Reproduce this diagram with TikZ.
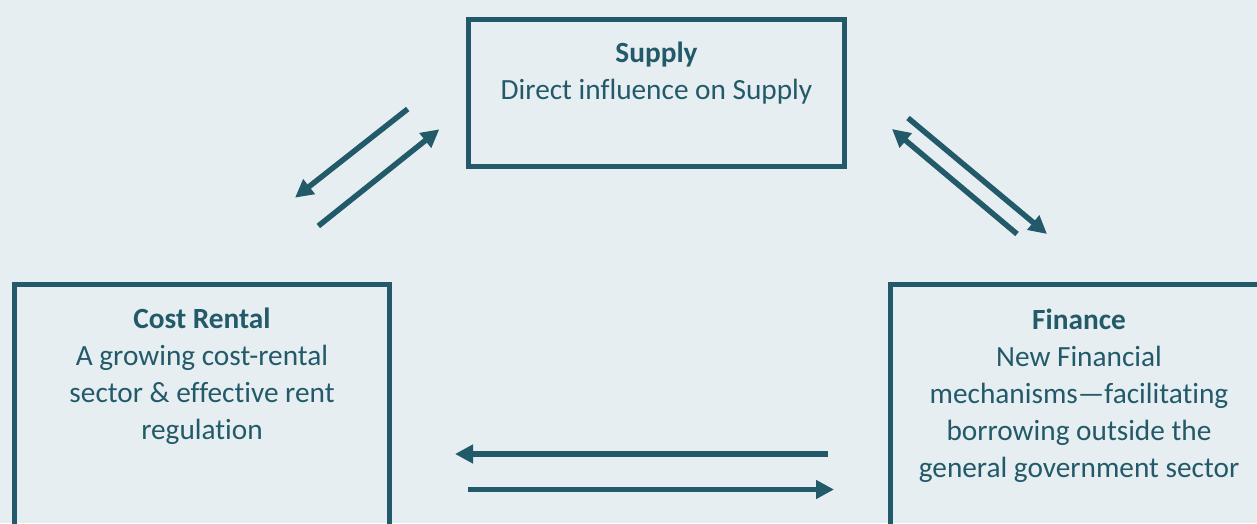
\documentclass[tikz,border=0pt]{standalone}
\usepackage{fontspec}
\setmainfont{Carlito}[Ligatures=NoCommon]
\usetikzlibrary{arrows.meta}
\definecolor{bgcol}{RGB}{230,238,242}
\definecolor{teal}{RGB}{35,90,105}
\tikzset{
  box/.style={draw=teal, line width=5pt, rectangle, inner sep=0pt},
  boxtext/.style={anchor=base, text=teal, inner sep=0pt, font=\fontsize{29.3}{37}\selectfont},
  arr/.style={draw=teal, line width=5.5pt, -{Triangle[length=18pt,width=18pt]}}
}
\newcommand{\bxlines}[1]{\renewcommand\arraystretch{1}\begin{tabular}[t]{@{}c@{}}#1\end{tabular}}
\begin{document}
\begin{tikzpicture}[x=1pt,y=1pt]
\useasboundingbox (0,0) rectangle (1257,523);
\fill[bgcol] (0,0) rectangle (1257,523);
\begin{scope}
\clip (0,0) rectangle (1257,523);
% boxes
\node[box, minimum width=376pt, minimum height=147pt] (supply) at (656.5,430) {};
\node[box, minimum width=375pt, minimum height=320pt] (cost) at (202,78.5) {};
\node[box, minimum width=378pt, minimum height=320pt] (fin) at (1079,78.5) {};
\end{scope}
% texts
\node[boxtext] (supplyt) at (656.5,460) {\bxlines{\textbf{Supply}\\Direct influence on Supply}};
\node[boxtext] (costt) at (202,195) {\bxlines{\textbf{Cost Rental}\\A growing cost-rental\\sector \& effective rent\\regulation}};
\node[boxtext] (fint) at (1079,194) {\bxlines{\textbf{Finance}\\New Financial\\mechanisms\textemdash facilitating\\borrowing outside the\\general government sector}};
% arrow end points
\coordinate (a1s) at (407.7,414);
\coordinate (a1e) at (295,325.3);
\coordinate (a2s) at (318.3,297);
\coordinate (a2e) at (439.3,393.7);
\coordinate (a3s) at (908,405);
\coordinate (a3e) at (1047,289);
\coordinate (a4s) at (1017,289);
\coordinate (a4e) at (892,394);
\coordinate (a5s) at (828,69);
\coordinate (a5e) at (455,69);
\coordinate (a6s) at (468,33.5);
\coordinate (a6e) at (834,33.5);
\draw[arr] (a1s) -- (a1e);
\draw[arr] (a2s) -- (a2e);
\draw[arr] (a3s) -- (a3e);
\draw[arr] (a4s) -- (a4e);
\draw[arr] (a5s) -- (a5e);
\draw[arr] (a6s) -- (a6e);
\end{tikzpicture}
\end{document}
